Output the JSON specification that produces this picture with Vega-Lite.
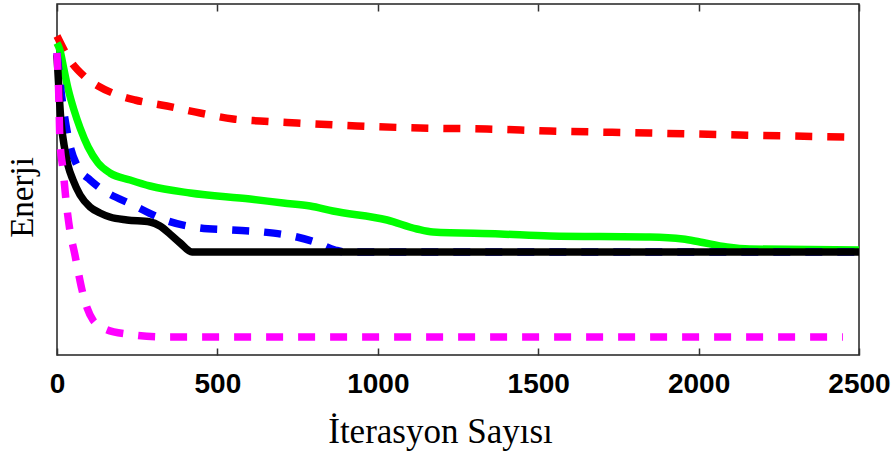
{
  "$schema": "https://vega.github.io/schema/vega-lite/v6.json",
  "width": 802,
  "height": 351,
  "autosize": {"type": "none"},
  "padding": {"left": 57, "top": 4, "right": 35, "bottom": 99},
  "background": "white",
  "config": {
    "view": {"stroke": "#222222", "strokeWidth": 1.5},
    "axis": {"grid": false}
  },
  "datasets": {
    "curves": [
      {"series": "red", "iter": 0, "energy": 319},
      {"series": "red", "iter": 40, "energy": 295},
      {"series": "red", "iter": 84, "energy": 279},
      {"series": "red", "iter": 128, "energy": 269},
      {"series": "red", "iter": 181, "energy": 261},
      {"series": "red", "iter": 243, "energy": 255},
      {"series": "red", "iter": 343, "energy": 249},
      {"series": "red", "iter": 446, "energy": 242},
      {"series": "red", "iter": 549, "energy": 236},
      {"series": "red", "iter": 633, "energy": 234},
      {"series": "red", "iter": 748, "energy": 232},
      {"series": "red", "iter": 935, "energy": 229},
      {"series": "red", "iter": 1132, "energy": 227},
      {"series": "red", "iter": 1340, "energy": 226},
      {"series": "red", "iter": 1537, "energy": 224},
      {"series": "red", "iter": 1848, "energy": 222},
      {"series": "red", "iter": 2129, "energy": 220},
      {"series": "red", "iter": 2456, "energy": 218},

      {"series": "green", "iter": 0, "energy": 312},
      {"series": "green", "iter": 9, "energy": 305},
      {"series": "green", "iter": 22, "energy": 285},
      {"series": "green", "iter": 34, "energy": 267},
      {"series": "green", "iter": 53, "energy": 245},
      {"series": "green", "iter": 72, "energy": 227},
      {"series": "green", "iter": 97, "energy": 208},
      {"series": "green", "iter": 128, "energy": 192},
      {"series": "green", "iter": 165, "energy": 182},
      {"series": "green", "iter": 228, "energy": 175},
      {"series": "green", "iter": 290, "energy": 169},
      {"series": "green", "iter": 415, "energy": 162},
      {"series": "green", "iter": 602, "energy": 156},
      {"series": "green", "iter": 705, "energy": 152},
      {"series": "green", "iter": 789, "energy": 149},
      {"series": "green", "iter": 860, "energy": 144},
      {"series": "green", "iter": 1029, "energy": 135},
      {"series": "green", "iter": 1122, "energy": 126},
      {"series": "green", "iter": 1172, "energy": 123},
      {"series": "green", "iter": 1381, "energy": 121},
      {"series": "green", "iter": 1537, "energy": 119},
      {"series": "green", "iter": 1848, "energy": 118},
      {"series": "green", "iter": 1951, "energy": 116},
      {"series": "green", "iter": 2004, "energy": 113},
      {"series": "green", "iter": 2088, "energy": 108},
      {"series": "green", "iter": 2160, "energy": 106},
      {"series": "green", "iter": 2500, "energy": 105},

      {"series": "blue", "iter": 0, "energy": 302},
      {"series": "blue", "iter": 16, "energy": 255},
      {"series": "blue", "iter": 28, "energy": 230},
      {"series": "blue", "iter": 40, "energy": 210},
      {"series": "blue", "iter": 65, "energy": 188},
      {"series": "blue", "iter": 103, "energy": 175},
      {"series": "blue", "iter": 134, "energy": 167},
      {"series": "blue", "iter": 237, "energy": 150},
      {"series": "blue", "iter": 337, "energy": 135},
      {"series": "blue", "iter": 446, "energy": 127},
      {"series": "blue", "iter": 546, "energy": 125},
      {"series": "blue", "iter": 642, "energy": 123},
      {"series": "blue", "iter": 748, "energy": 118},
      {"series": "blue", "iter": 804, "energy": 113},
      {"series": "blue", "iter": 867, "energy": 105},
      {"series": "blue", "iter": 898, "energy": 103},
      {"series": "blue", "iter": 2500, "energy": 103},

      {"series": "black", "iter": 0, "energy": 300},
      {"series": "black", "iter": 6, "energy": 265},
      {"series": "black", "iter": 12, "energy": 235},
      {"series": "black", "iter": 22, "energy": 210},
      {"series": "black", "iter": 34, "energy": 190},
      {"series": "black", "iter": 50, "energy": 175},
      {"series": "black", "iter": 72, "energy": 160},
      {"series": "black", "iter": 103, "energy": 148},
      {"series": "black", "iter": 134, "energy": 142},
      {"series": "black", "iter": 165, "energy": 138},
      {"series": "black", "iter": 218, "energy": 135},
      {"series": "black", "iter": 290, "energy": 133},
      {"series": "black", "iter": 321, "energy": 129},
      {"series": "black", "iter": 352, "energy": 121},
      {"series": "black", "iter": 384, "energy": 112},
      {"series": "black", "iter": 421, "energy": 103},
      {"series": "black", "iter": 2500, "energy": 103},

      {"series": "magenta", "iter": 0, "energy": 302},
      {"series": "magenta", "iter": 6, "energy": 255},
      {"series": "magenta", "iter": 9, "energy": 215},
      {"series": "magenta", "iter": 19, "energy": 185},
      {"series": "magenta", "iter": 28, "energy": 155},
      {"series": "magenta", "iter": 40, "energy": 125},
      {"series": "magenta", "iter": 56, "energy": 100},
      {"series": "magenta", "iter": 65, "energy": 85},
      {"series": "magenta", "iter": 78, "energy": 65},
      {"series": "magenta", "iter": 94, "energy": 47},
      {"series": "magenta", "iter": 112, "energy": 35},
      {"series": "magenta", "iter": 134, "energy": 29},
      {"series": "magenta", "iter": 150, "energy": 26},
      {"series": "magenta", "iter": 218, "energy": 21},
      {"series": "magenta", "iter": 343, "energy": 18},
      {"series": "magenta", "iter": 2450, "energy": 18}
    ]
  },
  "data": {"name": "curves"},
  "resolve": {"axis": {"x": "independent", "y": "independent"}},
  "layer": [
    {
      "transform": [{"filter": "datum.series === 'red'"}],
      "mark": {"type": "line", "color": "#ff0000", "strokeWidth": 7.5, "strokeDash": [17, 15], "strokeCap": "butt", "interpolate": "monotone"},
      "encoding": {
        "x": {"field": "iter", "type": "quantitative", "scale": {"domain": [0, 2500], "nice": false},
          "axis": {"orient": "bottom", "offset": -7, "values": [0, 500, 1000, 1500, 2000, 2500], "format": "d", "domain": false,
            "ticks": true, "tickSize": 7, "tickColor": "#333333", "tickWidth": 1.5,
            "labelFont": "Liberation Sans", "labelFontWeight": "bold", "labelFontSize": 28, "labelColor": "#000000",
            "labelPadding": 15, "labelBaseline": "top", "labelFlush": false, "labelOverlap": false,
            "title": "İterasyon Sayısı", "titleFont": "Liberation Serif", "titleFontWeight": "normal", "titleFontSize": 35,
            "titleColor": "#000000", "titleX": 383, "titleY": 94, "titleBaseline": "alphabetic", "titleAlign": "center", "titleAnchor": null}},
        "y": {"field": "energy", "type": "quantitative", "scale": {"domain": [0, 351], "nice": false},
          "axis": {"orient": "left", "labels": false, "ticks": false, "domain": false,
            "title": "Enerji", "titleFont": "Liberation Serif", "titleFontWeight": "normal", "titleFontSize": 33,
            "titleColor": "#000000", "titleAngle": -90, "titleX": -25, "titleY": 193, "titleBaseline": "alphabetic", "titleAlign": "center"}}
      }
    },
    {
      "transform": [{"filter": "datum.series === 'green'"}],
      "mark": {"type": "line", "color": "#00ff00", "strokeWidth": 7.5, "interpolate": "monotone"},
      "encoding": {
        "x": {"field": "iter", "type": "quantitative",
          "axis": {"orient": "top", "offset": -7, "values": [0, 500, 1000, 1500, 2000, 2500], "domain": false, "labels": false,
            "ticks": true, "tickSize": 7, "tickColor": "#333333", "tickWidth": 1.5, "title": null}},
        "y": {"field": "energy", "type": "quantitative", "axis": null}
      }
    },
    {
      "transform": [{"filter": "datum.series === 'blue'"}],
      "mark": {"type": "line", "color": "#0000ff", "strokeWidth": 7.5, "strokeDash": [17, 15], "strokeCap": "butt", "interpolate": "monotone"},
      "encoding": {
        "x": {"field": "iter", "type": "quantitative", "axis": null},
        "y": {"field": "energy", "type": "quantitative", "axis": null}
      }
    },
    {
      "transform": [{"filter": "datum.series === 'black'"}],
      "mark": {"type": "line", "color": "#000000", "strokeWidth": 7.5, "interpolate": "monotone"},
      "encoding": {
        "x": {"field": "iter", "type": "quantitative", "axis": null},
        "y": {"field": "energy", "type": "quantitative", "axis": null}
      }
    },
    {
      "transform": [{"filter": "datum.series === 'magenta'"}],
      "mark": {"type": "line", "color": "#ff00ff", "strokeWidth": 7.5, "strokeDash": [17, 15], "strokeCap": "butt", "interpolate": "monotone"},
      "encoding": {
        "x": {"field": "iter", "type": "quantitative", "axis": null},
        "y": {"field": "energy", "type": "quantitative", "axis": null}
      }
    }
  ]
}
